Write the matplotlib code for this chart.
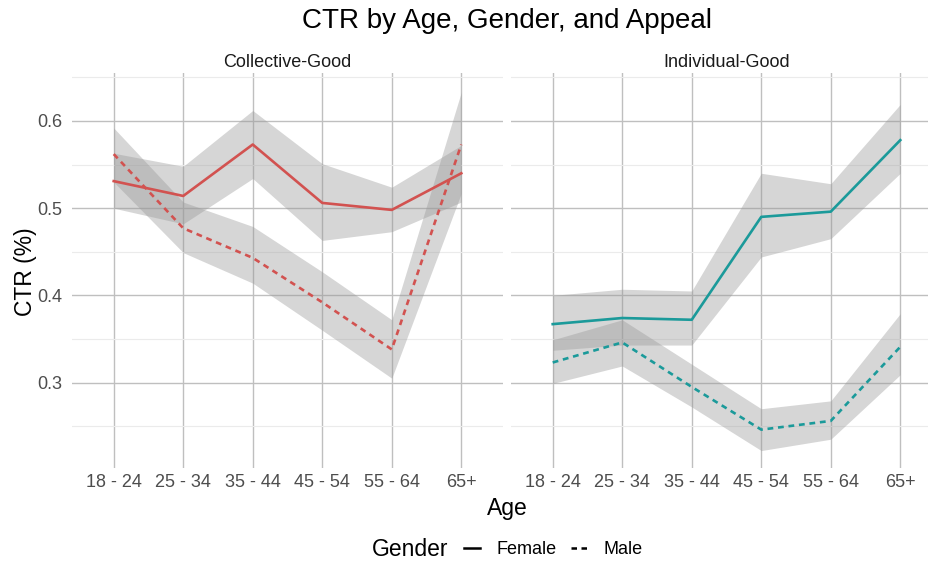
import matplotlib.pyplot as plt
from matplotlib.lines import Line2D
from matplotlib.ticker import MultipleLocator

plt.rcParams['font.family'] = ['Liberation Sans', 'DejaVu Sans']

ages = ['18 - 24', '25 - 34', '35 - 44', '45 - 54', '55 - 64', '65+']
panels = ['Collective-Good', 'Individual-Good']

# Collective-Good
cg_female = [0.531, 0.514, 0.573, 0.506, 0.498, 0.540]
cg_female_lo = [0.500, 0.482, 0.534, 0.463, 0.473, 0.507]
cg_female_hi = [0.563, 0.548, 0.612, 0.551, 0.524, 0.572]
cg_male = [0.562, 0.477, 0.443, 0.392, 0.338, 0.573]
cg_male_lo = [0.530, 0.449, 0.414, 0.360, 0.305, 0.517]
cg_male_hi = [0.592, 0.507, 0.479, 0.427, 0.372, 0.633]

# Individual-Good
ig_female = [0.367, 0.374, 0.372, 0.490, 0.496, 0.578]
ig_female_lo = [0.337, 0.343, 0.343, 0.444, 0.465, 0.540]
ig_female_hi = [0.400, 0.407, 0.405, 0.540, 0.528, 0.619]
ig_male = [0.323, 0.346, 0.295, 0.246, 0.256, 0.341]
ig_male_lo = [0.299, 0.319, 0.272, 0.222, 0.235, 0.309]
ig_male_hi = [0.349, 0.372, 0.321, 0.270, 0.279, 0.379]

colors = ['#d25250', '#1b9a9a']

series = [
    [(cg_female, cg_female_lo, cg_female_hi, '-'), (cg_male, cg_male_lo, cg_male_hi, '--')],
    [(ig_female, ig_female_lo, ig_female_hi, '-'), (ig_male, ig_male_lo, ig_male_hi, '--')],
]

fig = plt.figure(figsize=(9.29, 5.63), dpi=100)
W, H = 929, 563
bottom = 1 - 468 / H
height = (468 - 73) / H
axes = [fig.add_axes([72 / W, bottom, 431 / W, height]),
        fig.add_axes([511 / W, bottom, 431 / W, height])]

x = list(range(1, len(ages) + 1))
for i, ax in enumerate(axes):
    for y, lo, hi, ls in series[i]:
        ax.fill_between(x, lo, hi, color='#999999', alpha=0.4, lw=0, zorder=2)
        line, = ax.plot(x, y, color=colors[i], lw=1.9, ls=ls, zorder=3)
        if ls == '--':
            line.set_dashes((2.2, 1.8))
    ax.set_xlim(0.4, 6.6)
    ax.set_ylim(0.202, 0.655)
    ax.set_xticks(x)
    ax.set_xticklabels(ages)
    ax.yaxis.set_major_locator(MultipleLocator(0.1))
    ax.yaxis.set_minor_locator(MultipleLocator(0.05))
    ax.grid(which='major', color='#bfbfbf', lw=1.0, zorder=0)
    ax.grid(which='minor', axis='y', color='#ebebeb', lw=0.8, zorder=0)
    for s in ax.spines.values():
        s.set_visible(False)
    ax.tick_params(which='both', length=0, labelsize=13, colors='#4d4d4d', pad=4)
    ax.tick_params(axis='y', pad=7)
    ax.set_title(panels[i], fontsize=13, color='#1a1a1a', pad=4)
    ax.set_axisbelow(True)

axes[1].tick_params(axis='y', labelleft=False)
axes[0].set_yticklabels(['%.1f' % v for v in axes[0].get_yticks()])
fig.text(26 / W, 1 - 272 / H, 'CTR (%)', fontsize=16.5, rotation=90,
         ha='center', va='center')

fig.text(507 / W, 1 - 508 / H, 'Age', fontsize=16.5, ha='center', va='center')
fig.text(507 / W, 1 - 21 / H, 'CTR by Age, Gender, and Appeal', fontsize=20,
         ha='center', va='center')

fig.text(410 / W, 1 - 550 / H, 'Gender', fontsize=16.5, ha='center', va='center')
h1 = Line2D([], [], color='black', lw=1.8, ls='-')
h2 = Line2D([], [], color='black', lw=1.8, ls='--', dashes=(2.2, 1.8))
fig.legend([h1, h2], ['Female', 'Male'], loc='center', ncol=2,
           bbox_to_anchor=(553 / W, 1 - 550 / H), frameon=False, fontsize=13,
           handlelength=0.9, handletextpad=0.9, columnspacing=0.8,
           borderpad=0, borderaxespad=0)

fig.savefig('out.png', dpi=100)
